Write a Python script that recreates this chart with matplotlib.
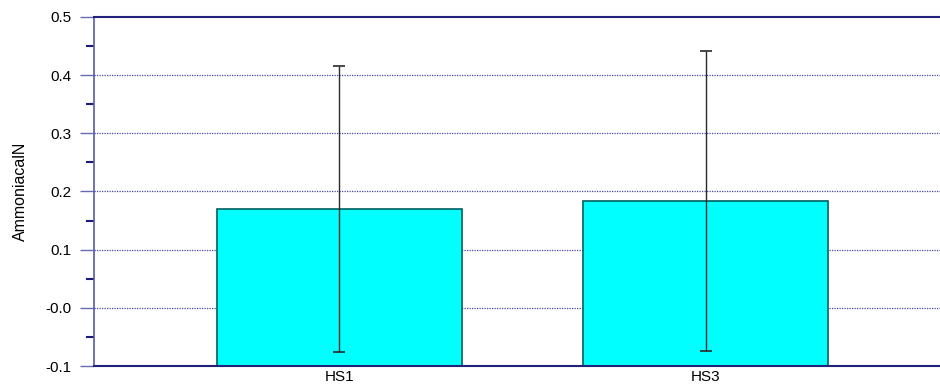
import matplotlib.pyplot as plt
import numpy as np

categories = ['HS1', 'HS3']
means = [0.170, 0.184]
errors = [0.246, 0.258]
ytick_vals = [-0.1, 0.0, 0.1, 0.2, 0.3, 0.4, 0.5]
ytick_labels = ['-0.1', '-0.0', '0.1', '0.2', '0.3', '0.4', '0.5']
grid_vals = [0.0, 0.1, 0.2, 0.3, 0.4]

plt.rcParams['font.family'] = ['Liberation Sans', 'DejaVu Sans']

fig = plt.figure(figsize=(9.4, 3.85), dpi=100)
ax = fig.add_axes([94 / 940, 19 / 385, 846 / 940, 349 / 385])

ymin = -0.1
x = np.arange(len(categories))
heights = [m - ymin for m in means]
ax.bar(x, heights, bottom=ymin, width=0.668, color='#00ffff',
       edgecolor='#005f5f', linewidth=1.2, zorder=2)
ax.errorbar(x, means, yerr=errors, fmt='none', ecolor='#2a2a2a',
            elinewidth=1.0, capsize=4.5, capthick=1.2, zorder=3)

for g in grid_vals:
    ax.axhline(g, color='#4646a8', linestyle=(0, (1, 1)), linewidth=0.9, zorder=1)

ax.set_xlim(-0.67, 1.64)
ax.set_ylim(-0.1, 0.5)
ax.set_xticks(x)
ax.set_xticklabels(categories, fontsize=11)
ax.tick_params(axis='x', length=0, pad=3)

ax.set_yticks(ytick_vals)
ax.set_yticklabels(ytick_labels, fontsize=11)
ax.set_yticks(np.arange(-0.05, 0.5, 0.1), minor=True)
ax.tick_params(axis='y', which='major', length=10, width=1, color='#6a6ab0', pad=6)
ax.tick_params(axis='y', which='minor', length=6, width=1.5, color='#1a1a80')

ax.spines['right'].set_visible(False)
ax.spines['top'].set_color('#22227a')
ax.spines['top'].set_linewidth(1.5)
ax.spines['bottom'].set_color('#22227a')
ax.spines['bottom'].set_linewidth(1.5)
ax.spines['left'].set_color('#5a5aa8')
ax.spines['left'].set_linewidth(1.2)

ax.set_ylabel('AmmoniacalN', fontsize=11.5, labelpad=13)

fig.savefig('out.png', dpi=100)
